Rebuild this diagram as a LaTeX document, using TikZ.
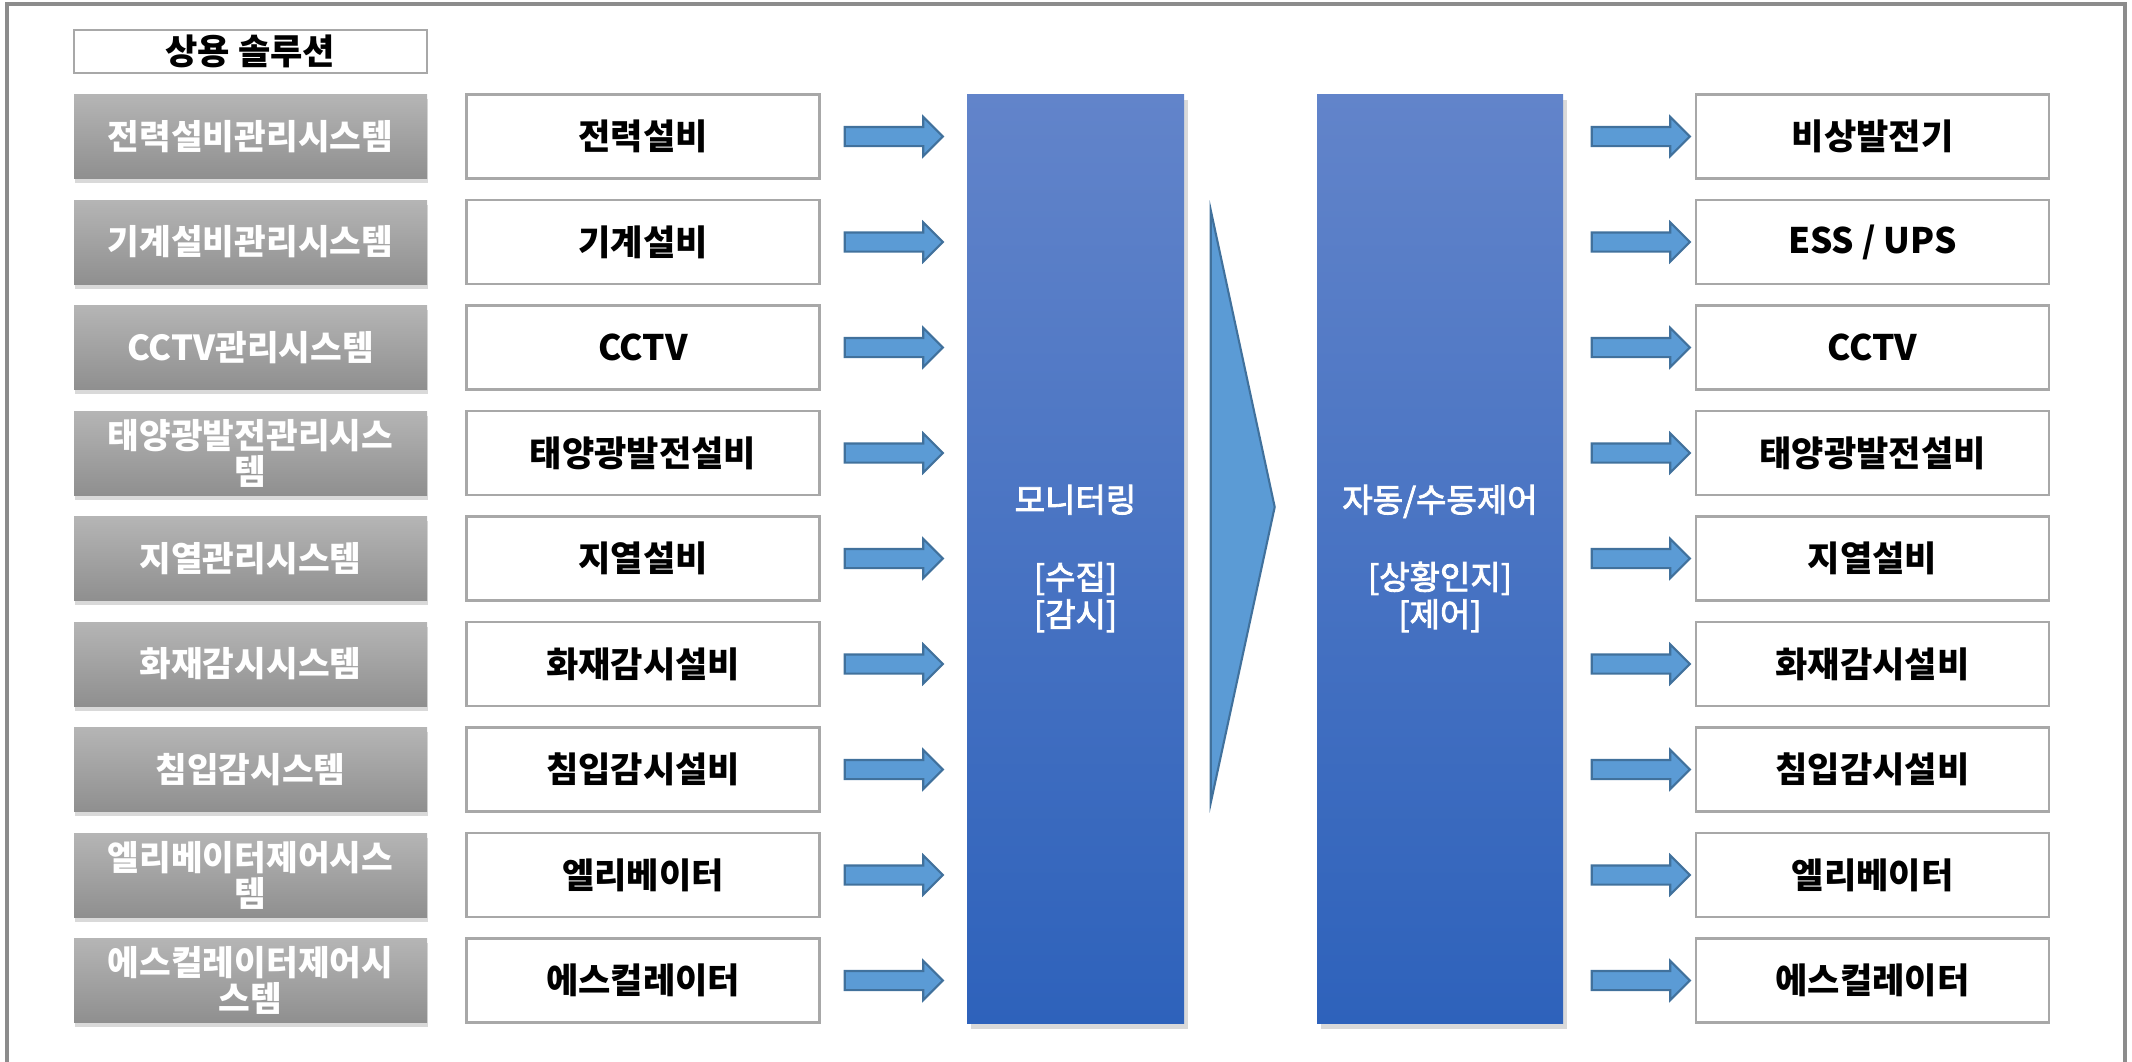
\documentclass[tikz,border=0pt]{standalone}
\usepackage{fontspec}
\setmainfont{Noto Sans CJK KR}
\newfontfamily\hubfont{Noto Sans CJK KR}[FakeBold=2.5]
\usetikzlibrary{shapes.arrows,shadows,calc}

\definecolor{sysTop}{RGB}{181,181,181}
\definecolor{sysBot}{RGB}{143,143,143}
\definecolor{boxLine}{RGB}{168,168,168}
\definecolor{hubTop}{RGB}{98,132,202}
\definecolor{hubBot}{RGB}{46,98,187}
\definecolor{arrFill}{RGB}{91,155,213}
\definecolor{arrLine}{RGB}{65,113,156}
\definecolor{frameLine}{RGB}{140,140,140}

\begin{document}
\begin{tikzpicture}[node distance=1.055cm, auto]
    \tikzstyle{heading} = [rectangle, draw=boxLine, line width=0.7pt, fill=white, minimum width=3.53cm, minimum height=0.43cm, inner sep=0pt, font=\fontsize{10pt}{11pt}\selectfont\bfseries]
    \tikzstyle{system} = [rectangle, top color=sysTop, bottom color=sysBot, text=white, minimum width=3.53cm, minimum height=0.84cm, inner sep=0pt, align=center, font=\fontsize{9.8pt}{10.2pt}\selectfont\bfseries, drop shadow={shadow xshift=0.3pt, shadow yshift=-1.4pt, opacity=0.3}]
    \tikzstyle{device} = [rectangle, draw=boxLine, line width=0.7pt, fill=white, minimum width=3.53cm, minimum height=0.84cm, inner sep=0pt, align=center, font=\fontsize{10pt}{11pt}\selectfont\bfseries]
    \tikzstyle{hub} = [rectangle, top color=hubTop, bottom color=hubBot, text=white, minimum height=9.29cm, inner sep=0pt, align=center, font=\fontsize{9.4pt}{10.6pt}\hubfont, drop shadow={shadow xshift=1pt, shadow yshift=-1.6pt, opacity=0.3}]
    \tikzstyle{blockarrow} = [single arrow, draw=arrLine, fill=arrFill, line width=0.6pt, minimum height=0.98cm, minimum width=0.37cm, single arrow head extend=0.1cm, inner xsep=0pt, inner ysep=0.085cm]
    \tikzstyle{flow} = [draw=arrLine, fill=arrFill, line width=0.6pt, line join=miter]

    \useasboundingbox (0,0) rectangle (21.32,-10.62);
    \draw [frameLine, line width=0.9pt] (0.07,-10.62) -- (0.07,-0.04) -- (21.25,-0.04) -- (21.25,-10.62);

    % Systems
    \node [heading] (head) at (2.505,-0.515) {상용 솔루션};
    \node [system] (sys1) at (2.505,-1.365) {전력설비관리시스템};
    \node [system, below of=sys1] (sys2) {기계설비관리시스템};
    \node [system, below of=sys2] (sys3) {CCTV관리시스템};
    \node [system, below of=sys3] (sys4) {태양광발전관리시스\\템};
    \node [system, below of=sys4] (sys5) {지열관리시스템};
    \node [system, below of=sys5] (sys6) {화재감시시스템};
    \node [system, below of=sys6] (sys7) {침입감시스템};
    \node [system, below of=sys7] (sys8) {엘리베이터제어시스\\템};
    \node [system, below of=sys8] (sys9) {에스컬레이터제어시\\스템};

    % Devices
    \node [device, right of=sys1, node distance=3.925cm] (dev1) {전력설비};
    \node [device, right of=sys2, node distance=3.925cm] (dev2) {기계설비};
    \node [device, right of=sys3, node distance=3.925cm] (dev3) {CCTV};
    \node [device, right of=sys4, node distance=3.925cm] (dev4) {태양광발전설비};
    \node [device, right of=sys5, node distance=3.925cm] (dev5) {지열설비};
    \node [device, right of=sys6, node distance=3.925cm] (dev6) {화재감시설비};
    \node [device, right of=sys7, node distance=3.925cm] (dev7) {침입감시설비};
    \node [device, right of=sys8, node distance=3.925cm] (dev8) {엘리베이터};
    \node [device, right of=sys9, node distance=3.925cm] (dev9) {에스컬레이터};

    % Monitoring and control
    \node [hub, minimum width=2.17cm, right of=dev5, node distance=4.325cm] (mon) {모니터링\\[0.4cm]{[}수집]\\{[}감시]};
    \node [hub, minimum width=2.46cm, right of=mon, node distance=3.645cm] (ctl) {자동/수동제어\\[0.4cm]{[}상황인지]\\{[}제어]};
    \draw [flow] ($(mon.east)+(0.26,3.485)$) -- ($(mon.east)+(0.9,0.515)$) -- ($(mon.east)+(0.26,-2.445)$) -- cycle;

    % Controlled equipment
    \node [device, right of=dev1, node distance=12.295cm] (out1) {비상발전기};
    \node [device, right of=dev2, node distance=12.295cm] (out2) {ESS / UPS};
    \node [device, right of=dev3, node distance=12.295cm] (out3) {CCTV};
    \node [device, right of=dev4, node distance=12.295cm] (out4) {태양광발전설비};
    \node [device, right of=dev5, node distance=12.295cm] (out5) {지열설비};
    \node [device, right of=dev6, node distance=12.295cm] (out6) {화재감시설비};
    \node [device, right of=dev7, node distance=12.295cm] (out7) {침입감시설비};
    \node [device, right of=dev8, node distance=12.295cm] (out8) {엘리베이터};
    \node [device, right of=dev9, node distance=12.295cm] (out9) {에스컬레이터};

    % Arrows
    \node [blockarrow, right of=dev1, node distance=2.46cm] (inArr1) {};
    \node [blockarrow, right of=dev2, node distance=2.46cm] (inArr2) {};
    \node [blockarrow, right of=dev3, node distance=2.46cm] (inArr3) {};
    \node [blockarrow, right of=dev4, node distance=2.46cm] (inArr4) {};
    \node [blockarrow, right of=dev5, node distance=2.46cm] (inArr5) {};
    \node [blockarrow, right of=dev6, node distance=2.46cm] (inArr6) {};
    \node [blockarrow, right of=dev7, node distance=2.46cm] (inArr7) {};
    \node [blockarrow, right of=dev8, node distance=2.46cm] (inArr8) {};
    \node [blockarrow, right of=dev9, node distance=2.46cm] (inArr9) {};

    \node [blockarrow, left of=out1, node distance=2.365cm] (outArr1) {};
    \node [blockarrow, left of=out2, node distance=2.365cm] (outArr2) {};
    \node [blockarrow, left of=out3, node distance=2.365cm] (outArr3) {};
    \node [blockarrow, left of=out4, node distance=2.365cm] (outArr4) {};
    \node [blockarrow, left of=out5, node distance=2.365cm] (outArr5) {};
    \node [blockarrow, left of=out6, node distance=2.365cm] (outArr6) {};
    \node [blockarrow, left of=out7, node distance=2.365cm] (outArr7) {};
    \node [blockarrow, left of=out8, node distance=2.365cm] (outArr8) {};
    \node [blockarrow, left of=out9, node distance=2.365cm] (outArr9) {};
\end{tikzpicture}
\end{document}
